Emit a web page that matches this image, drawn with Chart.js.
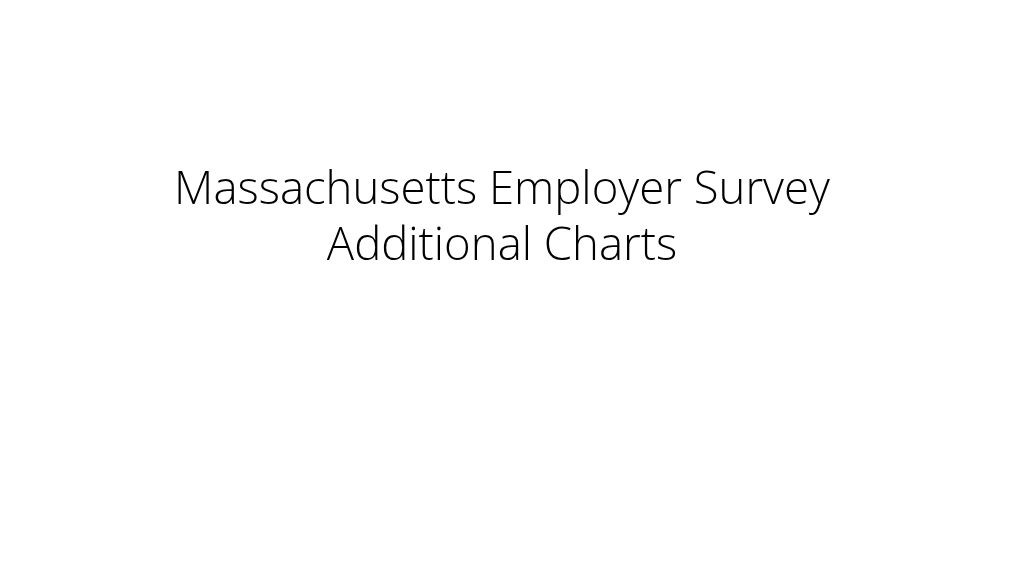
<!DOCTYPE html>
<html>
<head>
<meta charset="utf-8">
<style>
html,body{margin:0;padding:0;background:#fff;}
#wrap{width:1024px;height:576px;}
</style>
<script src="https://cdn.jsdelivr.net/npm/chart.js@4.4.0/dist/chart.umd.min.js"></script>
</head>
<body>
<div id="wrap"><canvas id="c" width="1024" height="576"></canvas></div>
<script>
const titleLines = ["Massachusetts Employer Survey", "Additional Charts"];
const categories = [];
const values = [];

new Chart(document.getElementById('c'), {
  type: 'bar',
  data: { labels: categories, datasets: [{ data: values }] },
  options: {
    responsive: false,
    animation: false,
    devicePixelRatio: 1,
    layout: { padding: { left: 0, right: 20, top: 0, bottom: 0 } },
    scales: { x: { display: false }, y: { display: false } },
    plugins: {
      legend: { display: false },
      tooltip: { enabled: false },
      title: {
        display: true,
        text: titleLines,
        color: '#000000',
        font: { family: "'Open Sans', Lato, 'Liberation Sans', sans-serif", size: 45.5, weight: 300, lineHeight: 1.21 },
        padding: { top: 164, bottom: 0 }
      }
    }
  }
});
</script>
</body>
</html>
